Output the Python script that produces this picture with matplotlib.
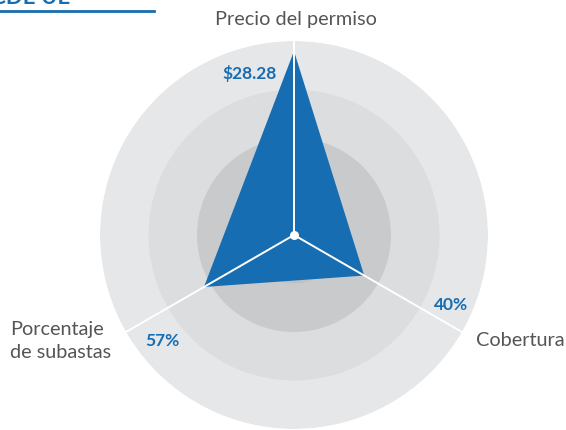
import numpy as np
import matplotlib
matplotlib.use("Agg")
import matplotlib.pyplot as plt

categories = ["Precio del permiso", "Cobertura", "Porcentaje\nde subastas"]
values = [0.948, 0.418, 0.536]          # normalised radius (fraction of outer ring)
value_labels = ["$28.28", "40%", "57%"]
ring_levels = [1.0, 0.75, 0.5, 0.25]
title_text = "RCDE UE"

BLUE = "#176db1"
GREY_TXT = "#555555"
ring_colors = ["#e6e7e8", "#dcdddf", "#c9cacc", "#bfc0c2"]

W, H = 566, 431
fig = plt.figure(figsize=(W / 100, H / 100), dpi=100)
fig.patch.set_facecolor("white")

def fx(px):
    return px / W

def fy(py):
    return 1 - py / H

cx, cy, R = 294, 236, 194
ax = fig.add_axes([fx(cx - R), fy(cy + R), 2 * R / W, 2 * R / H], projection="polar")
ax.set_theta_offset(np.pi / 2)
ax.set_theta_direction(-1)
ax.set_ylim(0, 1)
ax.set_facecolor("none")
ax.grid(False)
ax.spines["polar"].set_visible(False)
ax.set_xticks([])
ax.set_yticks([])

for lvl, col in zip(ring_levels, ring_colors):
    ax.bar(0, lvl, width=2 * np.pi, bottom=0, color=col, edgecolor="none", zorder=1)

n = len(categories)
angles = np.arange(n) * 2 * np.pi / n
a_closed = np.concatenate([angles, angles[:1]])
v_closed = np.concatenate([values, values[:1]])
ax.fill(a_closed, v_closed, color=BLUE, zorder=3, lw=0)

for a in angles:
    ax.plot([a, a], [0, 1], color="white", lw=1.4, zorder=4, solid_capstyle="butt")
ax.plot([0], [0], "o", color="white", ms=6.5, zorder=5, mec="none")

font = "Lato"
# axis labels
fig.text(fx(296), fy(19), categories[0], ha="center", va="center", fontsize=14.3,
         color=GREY_TXT, family=font)
fig.text(fx(520), fy(341), categories[1], ha="center", va="center", fontsize=14.3,
         color=GREY_TXT, family=font)
fig.text(fx(10), fy(341), categories[2], ha="left", va="center", fontsize=14.3,
         color=GREY_TXT, family=font, linespacing=1.45, multialignment="left")

# value labels
for (px, py), lab in zip([(250, 73), (451, 305), (162, 341)], value_labels):
    fig.text(fx(px), fy(py), lab, ha="center", va="center", fontsize=12.5,
             color=BLUE, family=font, fontweight="bold")

# cut-off title (only its lower part is visible, as in the reference)
fig.text(fx(70), fy(4), title_text, ha="right", va="baseline", fontsize=16,
         color=BLUE, family=font, fontweight="bold")
fig.add_artist(plt.Line2D([0, fx(154)], [fy(12), fy(12)], color=BLUE, lw=2,
                          transform=fig.transFigure))

fig.savefig("out.png", dpi=100)
